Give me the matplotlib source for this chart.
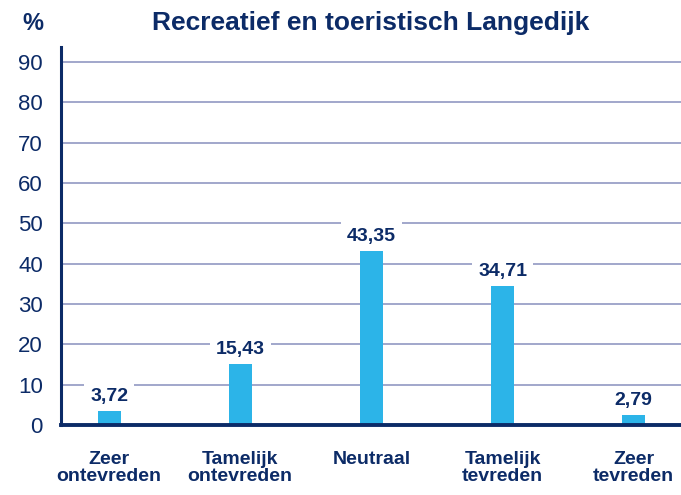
import matplotlib
matplotlib.use("Agg")
import matplotlib.pyplot as plt
import numpy as np

categories = ["Zeer\nontevreden", "Tamelijk\nontevreden", "Neutraal",
              "Tamelijk\ntevreden", "Zeer\ntevreden"]
values = [3.72, 15.43, 43.35, 34.71, 2.79]
value_labels = ["3,72", "15,43", "43,35", "34,71", "2,79"]
yticks = [0, 10, 20, 30, 40, 50, 60, 70, 80, 90]

navy = "#0c2b67"
bar_blue = "#2cb4e8"
grid_col = "#8790bd"

plt.rcParams["font.family"] = ["Liberation Sans", "DejaVu Sans"]

fig = plt.figure(figsize=(6.81, 4.95), dpi=100)
ax = fig.add_axes([0.0896, 0.1414, 0.9104, 0.7636])

x = np.arange(len(categories))
ax.bar(x, values, width=0.175, color=bar_blue, zorder=3)

# value labels sit on a white patch that cuts the grid lines
for xi, v, lab in zip(x, values, value_labels):
    ax.annotate(lab, (xi, v), xytext=(0, 3.5), textcoords="offset points",
                ha="center", va="bottom", fontsize=14, fontweight="bold",
                color=navy, zorder=4,
                bbox=dict(boxstyle="square,pad=0.3", fc="white", ec="none"))

ax.set_xlim(-0.366, 4.36)
ax.set_ylim(0, 93.7)
ax.set_yticks(yticks)
ax.set_yticklabels([str(t) for t in yticks], fontsize=16, color=navy)
ax.yaxis.grid(True, color=grid_col, lw=1.1, zorder=0)
ax.set_axisbelow(True)
ax.tick_params(axis="y", length=0, pad=13)
ax.tick_params(axis="x", length=0, pad=19)
ax.set_xticks(x)
ax.set_xticklabels(categories, fontsize=14, fontweight="bold", color=navy,
                   linespacing=0.95)

for s in ["top", "right"]:
    ax.spines[s].set_visible(False)
ax.spines["left"].set_color(navy)
ax.spines["left"].set_linewidth(2.2)
ax.spines["bottom"].set_color(navy)
ax.spines["bottom"].set_linewidth(2.8)
ax.spines["bottom"].set_zorder(5)

fig.text(0.545, 0.953, "Recreatief en toeristisch Langedijk", ha="center",
         va="center", fontsize=19, fontweight="bold", color=navy)
fig.text(0.049, 0.953, "%", ha="center", va="center", fontsize=17,
         fontweight="bold", color=navy)

fig.savefig("out.png", dpi=100)
